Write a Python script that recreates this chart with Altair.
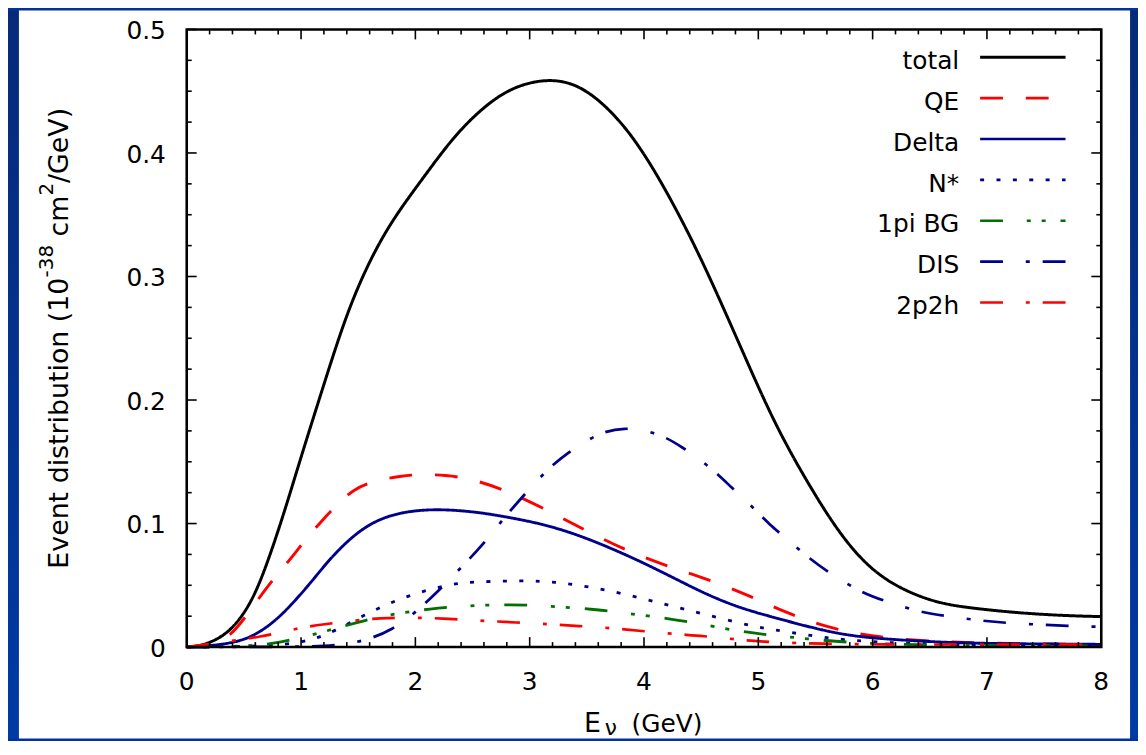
import altair as alt
import pandas as pd

FONT = "DejaVu Sans"

# ---------------- data ----------------
series_names = ["total", "QE", "Delta", "N*", "1pi BG", "DIS", "2p2h"]
series_colors = ["#000000", "#ff0000", "#00008b", "#00008b", "#007000", "#00008b", "#ff0000"]
series_dashes = [[1, 0], [23, 23], [1, 0], [4, 12.5], [23, 24, 4, 11, 4, 15], [23, 23, 4, 13], [23, 23, 4, 13]]
series_widths = [3.0, 2.7, 2.7, 2.7, 2.7, 2.7, 2.7]

total_E = [0, 0.1, 0.22, 0.39, 0.57, 0.71, 0.86, 1.0, 1.15, 1.29, 1.43, 1.61, 1.81, 2.07, 2.3, 2.53,
           2.82, 3.17, 3.46, 3.75, 3.98, 4.21, 4.44, 4.64, 4.85, 5.14, 5.43, 5.72, 6.0, 6.29, 6.58,
           6.87, 7.31, 7.74, 8.0]
total_v = [0, 0.0008, 0.004, 0.013, 0.036, 0.069, 0.111, 0.154, 0.198, 0.239, 0.277, 0.315, 0.3475,
           0.38, 0.409, 0.432, 0.453, 0.461, 0.4545, 0.431, 0.403, 0.367, 0.326, 0.286, 0.242, 0.181,
           0.133, 0.090, 0.061, 0.045, 0.0354, 0.0314, 0.0273, 0.0252, 0.0247]

qe_E = [0, 0.2, 0.3, 0.42, 0.65, 0.74, 0.91, 1.03, 1.17, 1.30, 1.46, 1.64, 1.87, 2.06, 2.27, 2.45,
        2.77, 3.13, 3.49, 3.86, 4.25, 4.63, 5.02, 5.22, 5.6, 5.99, 6.5, 7.0, 8.0]
qe_v = [0, 0.002, 0.005, 0.012, 0.042, 0.053, 0.0715, 0.086, 0.101, 0.114, 0.128, 0.1345, 0.1385,
        0.140, 0.139, 0.137, 0.128, 0.112, 0.0943, 0.0774, 0.064, 0.0527, 0.0375, 0.0287, 0.0158,
        0.0083, 0.0045, 0.003, 0.002]

delta_E = [0, 0.22, 0.48, 0.65, 0.80, 0.94, 1.09, 1.23, 1.38, 1.55, 1.78, 2.13, 2.53, 2.82, 3.11,
           3.40, 3.69, 3.98, 4.27, 4.56, 4.85, 5.14, 5.43, 5.72, 6.0, 6.44, 6.87, 7.5, 8.0]
delta_v = [0, 0.001, 0.0046, 0.0126, 0.0233, 0.0367, 0.0527, 0.0689, 0.0836, 0.097, 0.1077, 0.1123,
           0.1096, 0.105, 0.0997, 0.0916, 0.0809, 0.0689, 0.0555, 0.042, 0.0313, 0.0239, 0.0166,
           0.0104, 0.0072, 0.0046, 0.003, 0.0025, 0.0022]

nstar_E = [0, 0.5, 0.88, 1.1, 1.29, 1.55, 1.83, 2.09, 2.37, 2.53, 2.94, 3.23, 3.52, 3.81, 4.10, 4.38,
           4.67, 4.96, 5.14, 5.42, 5.72, 6.2, 7.0, 8.0]
nstar_v = [0, 0.0003, 0.002, 0.006, 0.0126, 0.026, 0.038, 0.046, 0.052, 0.0527, 0.054, 0.0527,
           0.0488, 0.0434, 0.0367, 0.030, 0.0233, 0.0166, 0.0139, 0.0099, 0.0059, 0.003, 0.0015, 0.001]

bg_E = [0, 0.5, 0.74, 1.09, 1.51, 1.75, 2.14, 2.46, 2.82, 3.16, 3.55, 3.85, 4.21, 4.53, 4.85, 5.08,
        5.51, 5.9, 6.5, 8.0]
bg_v = [0, 0.0005, 0.0024, 0.0094, 0.0206, 0.026, 0.0313, 0.0335, 0.0346, 0.0332, 0.0308, 0.0273,
        0.0233, 0.018, 0.0126, 0.0099, 0.0059, 0.003, 0.0015, 0.001]

dis_E = [0, 1.0, 1.3, 1.56, 1.80, 2.01, 2.20, 2.42, 2.59, 2.78, 2.93, 3.14, 3.32, 3.59, 3.82, 4.12,
         4.33, 4.59, 4.75, 5.0, 5.11, 5.20, 5.44, 5.63, 5.90, 6.11, 6.42, 6.66, 6.97, 7.20, 7.54,
         7.75, 8.0]
dis_v = [0, 0.0002, 0.001, 0.005, 0.0139, 0.0286, 0.0453, 0.0662, 0.0828, 0.105, 0.121, 0.1425,
         0.1567, 0.1728, 0.1785, 0.1736, 0.1624, 0.145, 0.1305, 0.109, 0.098, 0.0916, 0.072, 0.0595,
         0.0442, 0.0372, 0.028, 0.0249, 0.0211, 0.0193, 0.0179, 0.0169, 0.0165]

p2h_E = [0, 0.1, 0.22, 0.65, 0.97, 1.19, 1.51, 1.75, 2.07, 2.33, 2.62, 2.87, 3.18, 3.42, 3.73, 3.97,
         4.28, 4.51, 4.83, 5.0, 5.5, 6.5, 8.0]
p2h_v = [0, 0.001, 0.003, 0.008, 0.0153, 0.0184, 0.022, 0.0238, 0.0238, 0.0227, 0.0211, 0.020,
         0.0184, 0.0171, 0.0153, 0.0131, 0.0104, 0.0091, 0.0059, 0.0045, 0.0025, 0.002, 0.002]

series_E = [total_E, qe_E, delta_E, nstar_E, bg_E, dis_E, p2h_E]
series_v = [total_v, qe_v, delta_v, nstar_v, bg_v, dis_v, p2h_v]

x_major = [0, 1, 2, 3, 4, 5, 6, 7, 8]
x_labels = ["0", "1", "2", "3", "4", "5", "6", "7", "8"]
x_minor = [0.2, 0.4, 0.6, 0.8, 1.2, 1.4, 1.6, 1.8, 2.2, 2.4, 2.6, 2.8, 3.2, 3.4, 3.6, 3.8,
           4.2, 4.4, 4.6, 4.8, 5.2, 5.4, 5.6, 5.8, 6.2, 6.4, 6.6, 6.8, 7.2, 7.4, 7.6, 7.8]
y_major = [0, 0.1, 0.2, 0.3, 0.4, 0.5]
y_labels = ["0", "0.1", "0.2", "0.3", "0.4", "0.5"]
y_minor = [0.025, 0.05, 0.075, 0.125, 0.15, 0.175, 0.225, 0.25, 0.275, 0.325, 0.35, 0.375,
           0.425, 0.45, 0.475]

# y title pieces: (text, is_superscript, space before it)
y_title_parts = [("Event distribution (10", False, False), ("-38", True, False),
                 ("cm", False, True), ("2", True, False), ("/GeV)", False, False)]
x_title_parts = ["E", "ν", "(GeV)"]

# ---------------- layout (pixels) ----------------
W, H = 921, 622
PAD = {"left": 180, "top": 19, "right": 37, "bottom": 92}
MAJ, MIN = 10, 5

rows = []
for name, es, vs in zip(series_names, series_E, series_v):
    for e, v in zip(es, vs):
        rows.append({"series": name, "E": e, "v": v})
df = pd.DataFrame(rows)

one = pd.DataFrame({"k": [0]})
xs = alt.Scale(domain=[0, 8], nice=False, zero=False)
ys = alt.Scale(domain=[0, 0.5], nice=False, zero=False)

# background: blue side strips + white panel
grad = alt.LinearGradient(
    gradient="linear",
    stops=[alt.GradientStop(color="#062a78", offset=0), alt.GradientStop(color="#003aa5", offset=1)],
    x1=0, x2=0, y1=0, y2=1,
)
left_strip = alt.Chart(one).mark_rect(color=grad).encode(
    x=alt.value(-PAD["left"]), x2=alt.value(-PAD["left"] + 11),
    y=alt.value(-PAD["top"]), y2=alt.value(H + PAD["bottom"]))
right_strip = alt.Chart(one).mark_rect(color=grad).encode(
    x=alt.value(W + PAD["right"] - 8), x2=alt.value(W + PAD["right"]),
    y=alt.value(-PAD["top"]), y2=alt.value(H + PAD["bottom"]))
panel = alt.Chart(one).mark_rect(color="white").encode(
    x=alt.value(-PAD["left"] + 11), x2=alt.value(W + PAD["right"] - 8),
    y=alt.value(-PAD["top"]), y2=alt.value(H + PAD["bottom"]))

lines = alt.Chart(df).mark_line(interpolate="basis").encode(
    x=alt.X("E:Q", scale=xs, axis=None),
    y=alt.Y("v:Q", scale=ys, axis=None),
    color=alt.Color("series:N", scale=alt.Scale(domain=series_names, range=series_colors), legend=None),
    strokeDash=alt.StrokeDash("series:N", scale=alt.Scale(domain=series_names, range=series_dashes), legend=None),
    strokeWidth=alt.StrokeWidth("series:N", scale=alt.Scale(domain=series_names, range=series_widths), legend=None),
)

# inward ticks on all four sides
xmaj = pd.DataFrame({"pos": x_major, "label": x_labels})
xmin = pd.DataFrame({"pos": x_minor})
ymaj = pd.DataFrame({"pos": y_major, "label": y_labels})
ymin = pd.DataFrame({"pos": y_minor})
tick_layers = []
for d, ln in ((xmaj, MAJ), (xmin, MIN)):
    for y0, y1 in ((H, H - ln), (0, ln)):
        tick_layers.append(alt.Chart(d).mark_rule(color="black", strokeWidth=1.6).encode(
            x=alt.X("pos:Q", scale=xs, axis=None), y=alt.value(y0), y2=alt.value(y1)))
for d, ln in ((ymaj, MAJ), (ymin, MIN)):
    for x0, x1 in ((0, ln), (W, W - ln)):
        tick_layers.append(alt.Chart(d).mark_rule(color="black", strokeWidth=1.6).encode(
            y=alt.Y("pos:Q", scale=ys, axis=None), x=alt.value(x0), x2=alt.value(x1)))

# tick labels
xlab = alt.Chart(xmaj).mark_text(align="center", baseline="alphabetic", font=FONT, fontSize=25,
                                 color="black").encode(
    x=alt.X("pos:Q", scale=xs, axis=None), y=alt.value(H + 43), text="label:N")
ylab = alt.Chart(ymaj).mark_text(align="right", baseline="alphabetic", font=FONT, fontSize=25,
                                 color="black", dy=10).encode(
    y=alt.Y("pos:Q", scale=ys, axis=None), x=alt.value(-21), text="label:N")

frame = alt.Chart(one).mark_rect(filled=False, stroke="black", strokeWidth=2.6).encode(
    x=alt.value(0), x2=alt.value(W), y=alt.value(0), y2=alt.value(H))

# legend
legend_layers = []
for i, (name, col, dash, sw) in enumerate(zip(series_names, series_colors, series_dashes, series_widths)):
    ly = 28 + 41.17 * i
    legend_layers.append(alt.Chart(one).mark_rule(color=col, strokeDash=dash, strokeWidth=sw).encode(
        x=alt.value(799), x2=alt.value(885), y=alt.value(ly)))
    legend_layers.append(alt.Chart(one).mark_text(
        text=name, align="right", baseline="alphabetic", font=FONT, fontSize=25, color="black").encode(
        x=alt.value(778), y=alt.value(ly + 11.7)))

# y axis title (rotated, pieces with superscripts)
MAIN_FS, SUP_FS = 27, 20
adv = {"E": .632, "v": .592, "e": .615, "n": .634, "t": .392, " ": .318, "d": .635,
       "i": .278, "s": .521, "r": .411, "b": .635, "u": .634, "o": .612, "(": .390, "1": .636,
       "0": .636, "-": .361, "3": .636, "8": .636, "c": .550, "m": .974, "2": .636, "/": .337,
       "G": .775, "V": .684, ")": .390}
SPACE = 0.318 * MAIN_FS
pieces = []
for t, sup, gap in y_title_parts:
    fs = SUP_FS if sup else MAIN_FS
    pieces.append((t, sup, SPACE if gap else 0.0, sum(adv.get(ch, .6) for ch in t) * fs))
total_len = sum(g + w for _, _, g, w in pieces)
ypos = 311 + total_len / 2
ytitle_layers = []
for t, sup, g, w in pieces:
    ypos -= g
    ytitle_layers.append(alt.Chart(one).mark_text(
        text=t, angle=270, align="left", baseline="alphabetic", font=FONT,
        fontSize=SUP_FS if sup else MAIN_FS, color="black").encode(
        x=alt.value(-135 if sup else -120), y=alt.value(ypos)))
    ypos -= w

# x axis title
xt_E = alt.Chart(one).mark_text(text=x_title_parts[0], align="left", baseline="alphabetic", font=FONT,
                                fontSize=27, color="black").encode(x=alt.value(400), y=alt.value(708))
xt_nu = alt.Chart(one).mark_text(text=x_title_parts[1], align="left", baseline="alphabetic", font=FONT,
                                 fontSize=22, color="black").encode(x=alt.value(421), y=alt.value(711))
xt_gev = alt.Chart(one).mark_text(text=x_title_parts[2], align="left", baseline="alphabetic", font=FONT,
                                  fontSize=25, color="black").encode(x=alt.value(448), y=alt.value(708))

chart = alt.layer(
    left_strip, right_strip, panel, lines, *tick_layers, frame, xlab, ylab, *legend_layers,
    *ytitle_layers, xt_E, xt_nu, xt_gev
).properties(
    width=W, height=H, padding=PAD, autosize=alt.AutoSizeParams(type="none"),
).configure(
    background="#0033a0",
).configure_view(stroke=None)

chart.save("out.html", embed_options={"renderer": "svg", "actions": False})
